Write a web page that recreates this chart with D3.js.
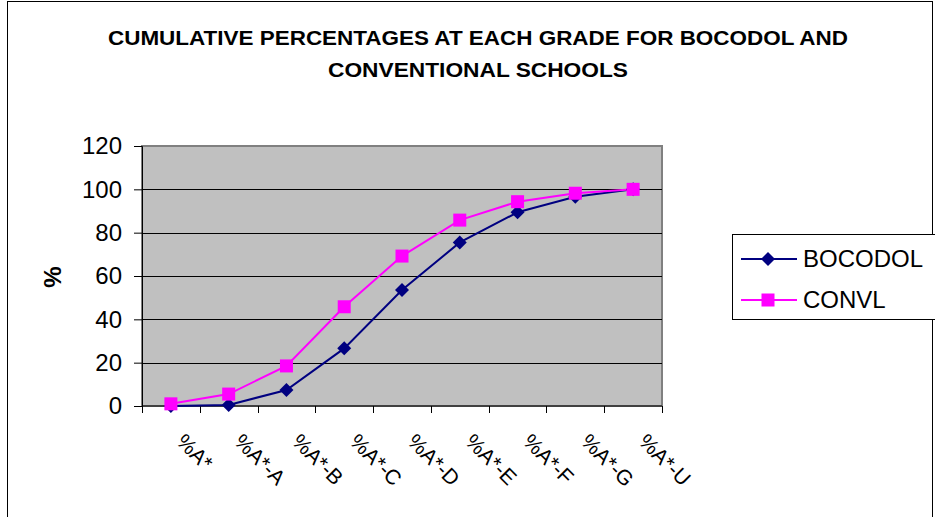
<!DOCTYPE html>
<html>
<head>
<meta charset="utf-8">
<script src="https://cdn.jsdelivr.net/npm/d3@7"></script>
<style>
    html, body { margin: 0; padding: 0; background: #fff; }
    svg { display: block; font-family: "Liberation Sans", Arial, sans-serif; }
</style>
</head>
<body>
<svg id="chart" width="935" height="517"></svg>
<script>
(function () {
    "use strict";

    // --- Data ---
    var grades = ["%A*", "%A*-A", "%A*-B", "%A*-C", "%A*-D", "%A*-E", "%A*-F", "%A*-G", "%A*-U"];
    var bocodol = [0, 0.5, 7.4, 26.6, 53.5, 75.5, 89.4, 96.6, 100];
    var convl = [1, 5.5, 18.5, 45.8, 69.2, 85.8, 94.3, 98.2, 100];
    var yTicks = [0, 20, 40, 60, 80, 100, 120];
    var titleLines = ["CUMULATIVE PERCENTAGES AT EACH GRADE FOR BOCODOL AND", "CONVENTIONAL SCHOOLS"];
    var titleWidths = [740, 300];

    var svg = d3.select("#chart");

    // outer frame
    svg.append("rect")
        .attr("x", 7.5).attr("y", 1.5)
        .attr("width", 925).attr("height", 530)
        .attr("fill", "none").attr("stroke", "#000").attr("stroke-width", 1);

    // --- Title ---
    svg.append("g").selectAll("text")
        .data(titleLines)
        .enter().append("text")
        .attr("x", 478)
        .attr("y", function (d, i) { return 45 + i * 32; })
        .attr("text-anchor", "middle")
        .attr("font-size", 21)
        .attr("font-weight", "bold")
        .attr("textLength", function (d, i) { return titleWidths[i]; })
        .attr("lengthAdjust", "spacingAndGlyphs")
        .text(function (d) { return d; });

    // --- Plot area ---
    var plot = { left: 142, top: 146, right: 662, bottom: 406 };

    var x = d3.scaleBand().domain(grades).range([plot.left, plot.right]);
    var y = d3.scaleLinear().domain([0, 120]).range([plot.bottom, plot.top]);

    svg.append("rect")
        .attr("x", plot.left).attr("y", plot.top)
        .attr("width", plot.right - plot.left).attr("height", plot.bottom - plot.top)
        .attr("fill", "#c0c0c0")
        .attr("stroke", "#808080").attr("stroke-width", 2);

    // Grid
    svg.append("g")
        .selectAll("line")
        .data(yTicks.filter(function (t) { return t > 0 && t < 120; }))
        .enter().append("line")
        .attr("x1", plot.left).attr("x2", plot.right)
        .attr("y1", function (d) { return Math.round(y(d)) + 0.5; })
        .attr("y2", function (d) { return Math.round(y(d)) + 0.5; })
        .attr("stroke", "#000").attr("stroke-width", 1);

    // Y axis
    var yAxis = svg.append("g")
        .attr("transform", "translate(" + plot.left + ",0)")
        .call(d3.axisLeft(y).tickValues(yTicks).tickSize(8).tickPadding(12));
    yAxis.select(".domain").attr("stroke", "#000");
    yAxis.selectAll(".tick line").attr("stroke", "#000");
    yAxis.selectAll("text")
        .attr("font-size", 24)
        .attr("font-family", "Liberation Sans, Arial, sans-serif")
        .attr("fill", "#000");

    // X axis (ticks at band edges)
    var xAxis = svg.append("g")
        .attr("transform", "translate(0," + plot.bottom + ")");
    xAxis.append("line")
        .attr("x1", plot.left).attr("x2", plot.right)
        .attr("stroke", "#000");
    xAxis.selectAll(".xtick")
        .data(grades.concat(["end"]))
        .enter().append("line")
        .attr("class", "xtick")
        .attr("x1", function (d, i) { return Math.round(plot.left + i * x.step()) + 0.5; })
        .attr("x2", function (d, i) { return Math.round(plot.left + i * x.step()) + 0.5; })
        .attr("y1", 0).attr("y2", 7)
        .attr("stroke", "#000");
    xAxis.selectAll(".xlabel")
        .data(grades)
        .enter().append("text")
        .attr("class", "xlabel")
        .attr("transform", function (d) {
            return "translate(" + (x(d) + x.bandwidth() / 2 + 15) + ",26) rotate(45)";
        })
        .attr("font-size", 21)
        .attr("dy", "0.72em")
        .text(function (d) { return d; });

    // Y title
    svg.append("text")
        .attr("transform", "translate(61,277) rotate(-90)")
        .attr("text-anchor", "middle")
        .attr("font-size", 24)
        .attr("font-weight", "bold")
        .text("%");

    // --- Series ---
    var series = [
        { name: "BOCODOL", values: bocodol, color: "#000080", marker: "diamond" },
        { name: "CONVL", values: convl, color: "#ff00ff", marker: "square" }
    ];

    var line = d3.line()
        .x(function (d, i) { return x(grades[i]) + x.bandwidth() / 2; })
        .y(function (d) { return y(d); });

    function drawMarker(g, type, color) {
        if (type === "diamond") {
            g.append("path")
                .attr("d", "M0,-7L7,0L0,7L-7,0Z")
                .attr("fill", color);
        } else {
            g.append("rect")
                .attr("x", -6.5).attr("y", -6.5)
                .attr("width", 13).attr("height", 13)
                .attr("fill", color);
        }
    }

    series.forEach(function (s) {
        svg.append("path")
            .datum(s.values)
            .attr("d", line)
            .attr("fill", "none")
            .attr("stroke", s.color)
            .attr("stroke-width", 2);
    });

    series.forEach(function (s) {
        s.values.forEach(function (v, i) {
            var g = svg.append("g")
                .attr("transform", "translate(" + (x(grades[i]) + x.bandwidth() / 2) + "," + y(v) + ")");
            drawMarker(g, s.marker, s.color);
        });
    });

    // --- Legend ---
    var legend = svg.append("g").attr("transform", "translate(732,234)");
    legend.append("rect")
        .attr("x", 0.5).attr("y", 0.5)
        .attr("width", 210).attr("height", 85)
        .attr("fill", "#fff").attr("stroke", "#000");
    series.forEach(function (s, i) {
        var ly = 25 + i * 41;
        legend.append("line")
            .attr("x1", 9).attr("x2", 65)
            .attr("y1", ly).attr("y2", ly)
            .attr("stroke", s.color).attr("stroke-width", 2);
        drawMarker(legend.append("g").attr("transform", "translate(36," + ly + ")"), s.marker, s.color);
        legend.append("text")
            .attr("x", 71).attr("y", ly)
            .attr("dy", "0.35em")
            .attr("font-size", 24)
            .text(s.name);
    });
})();
</script>
</body>
</html>
